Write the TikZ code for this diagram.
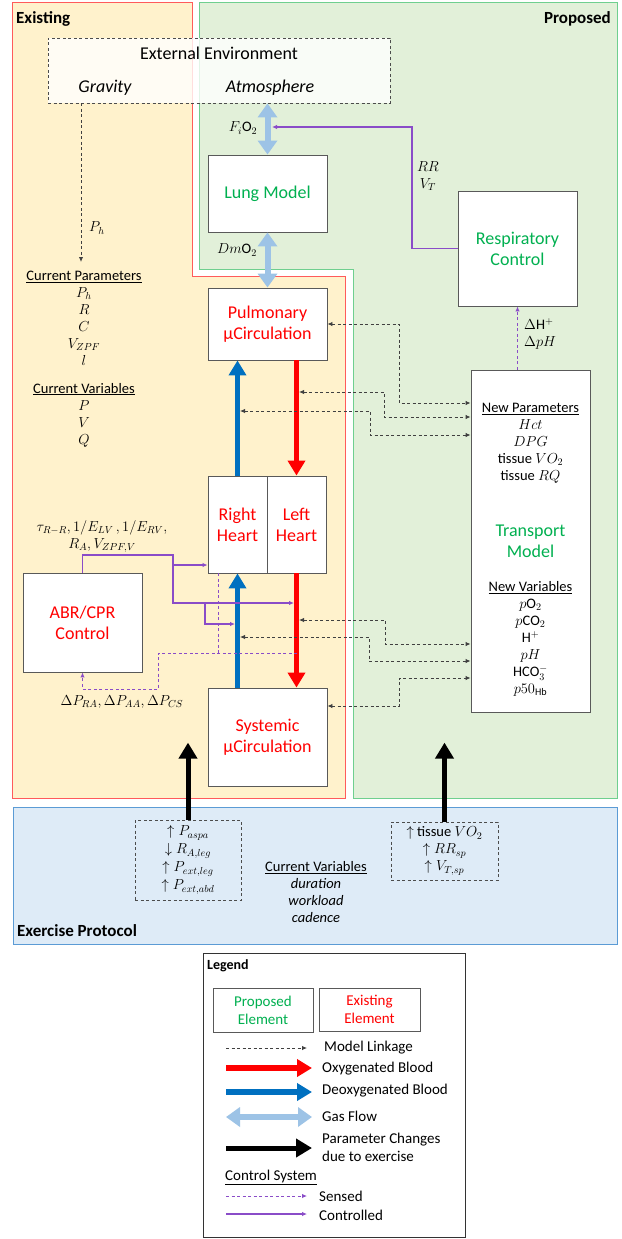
\RequirePackage{fix-cm}
\documentclass[tikz,border=0pt]{standalone}
\usepackage{fontspec}
\setmainfont{Carlito}
\usetikzlibrary{arrows.meta}

\definecolor{existfill}{HTML}{FFF2CC}
\definecolor{existline}{HTML}{FF5B5B}
\definecolor{propfill}{HTML}{E2F0D9}
\definecolor{propline}{HTML}{6FCF8F}
\definecolor{exerfill}{HTML}{DEEBF7}
\definecolor{exerline}{HTML}{5B9BD5}
\definecolor{propgreen}{HTML}{00B050}
\definecolor{existred}{HTML}{FF0000}
\definecolor{deoxblue}{HTML}{0070C0}
\definecolor{gasblue}{HTML}{9DC3E6}
\definecolor{ctrlpurple}{HTML}{8A4CC8}

\tikzset{
  block/.style={draw=black!65, line width=0.9pt, fill=white, align=center, inner sep=0pt, font=\fontsize{18}{21}\selectfont},
  smalltxt/.style={align=center, inner sep=0pt, font=\fontsize{14.5}{17}\selectfont},
  legtxt/.style={anchor=west, align=left, inner sep=0pt, font=\fontsize{15}{18}\selectfont},
  headtxt/.style={inner sep=0pt, font=\fontsize{17}{20}\selectfont\bfseries},
  dashbox/.style={draw=black!70, line width=0.8pt, dash pattern=on 3pt off 2.5pt},
  link/.style={draw=black!75, line width=0.9pt, dash pattern=on 3pt off 2.5pt, {Latex[length=5pt,width=4.5pt]}-{Latex[length=5pt,width=4.5pt]}},
  oxy/.style={draw=existred, line width=5pt, -{Triangle[width=17pt,length=15pt]}},
  deoxy/.style={draw=deoxblue, line width=5pt, -{Triangle[width=17pt,length=15pt]}},
  gas/.style={draw=gasblue, line width=6pt, {Triangle[width=19pt,length=14pt]}-{Triangle[width=19pt,length=14pt]}},
  exer/.style={draw=black, line width=5pt, -{Triangle[width=18pt,length=16pt]}},
  ctrl/.style={draw=ctrlpurple, line width=1.1pt, -{Latex[length=5pt,width=4.5pt]}},
  sensed/.style={draw=ctrlpurple, line width=1pt, dash pattern=on 3pt off 2.5pt, -{Latex[length=5pt,width=4.5pt]}},
}

\begin{document}
\begin{tikzpicture}[x=1pt,y=-1pt]
  %%%%% START %%%%%
  \useasboundingbox (0,0) rectangle (621,1239);

  % regions
  \filldraw[fill=existfill, draw=existline, line width=1pt] (12,3) -- (192,3) -- (192,276) -- (345,276) -- (345,798) -- (12,798) -- cycle;
  \filldraw[fill=propfill, draw=propline, line width=1pt] (199,3) -- (617,3) -- (617,798) -- (353,798) -- (353,269) -- (199,269) -- cycle;
  \filldraw[fill=exerfill, draw=exerline, line width=1pt] (13,807) rectangle (617,944);
  \node[headtxt, anchor=west] at (16,19) {Existing};
  \node[headtxt, anchor=east] at (611,19) {Proposed};
  \node[headtxt, anchor=west] at (17,931) {Exercise Protocol};

  % external environment
  \node[dashbox, fill=white, fill opacity=0.8, minimum width=342, minimum height=65] (env) at (219,70.5) {};
  \node[font=\fontsize{18}{21}\selectfont] (envtitle) at (219,53) {External Environment};
  \node[font=\fontsize{18}{21}\selectfont\itshape] (grav) at (105,88) {Gravity};
  \node[font=\fontsize{18}{21}\selectfont\itshape] (atm) at (270,88) {Atmosphere};

  % model blocks
  \node[block, text=propgreen, minimum width=119, minimum height=77] (lung) at (267.5,193.5) {Lung Model};
  \node[block, text=existred, minimum width=119, minimum height=72] (pulm) at (267.5,324) {Pulmonary\\µCirculation};
  \node[block, text=propgreen, minimum width=119, minimum height=115] (resp) at (517.5,248.5) {Respiratory\\Control};
  \node[block, text=propgreen, minimum width=119, minimum height=342] (trans) at (530.5,541) {Transport\\Model};
  \node[block, text=existred, minimum width=59, minimum height=97] (rheart) at (237.5,524.5) {Right\\Heart};
  \node[block, text=existred, minimum width=59, minimum height=97] (lheart) at (296.5,524.5) {Left\\Heart};
  \node[block, text=existred, minimum width=119, minimum height=99] (abr) at (82.5,622.5) {ABR/CPR\\Control};
  \node[block, text=existred, minimum width=119, minimum height=98] (syst) at (267.5,737) {Systemic\\µCirculation};

  % texts
  \node[smalltxt] (curpar) at (84,318) {\underline{Current Parameters}\\$P_h$\\$R$\\$C$\\$V_{ZPF}$\\$l$};
  \node[smalltxt] (curvar) at (84,415) {\underline{Current Variables}\\$P$\\$V$\\$Q$};
  \node[smalltxt] (newpar) at (530.5,443) {\underline{New Parameters}\\$Hct$\\$DPG$\\tissue $VO_2$\\tissue $RQ$};
  \node[smalltxt] (newvar) at (530.5,639) {\underline{New Variables}\\$p\mathrm{O}_2$\\$p\mathrm{CO}_2$\\$\mathrm{H}^+$\\$pH$\\$\mathrm{HCO}_3^-$\\$p50_{\mathrm{Hb}}$};
  \node[smalltxt, anchor=west] (phlbl) at (89,228) {$P_h$};
  \node[smalltxt] (fiolbl) at (243,128) {$F_i\mathrm{O}_2$};
  \node[smalltxt] (dmlbl) at (237,250) {$Dm\mathrm{O}_2$};
  \node[smalltxt] (rrlbl) at (428,176) {$RR$\\$V_T$};
  \node[smalltxt, anchor=west, align=left] (dhlbl) at (524,334) {$\Delta\mathrm{H}^+$\\$\Delta pH$};
  \node[smalltxt] (taulbl) at (102,536.5) {$\tau_{R-R}, 1/E_{LV}\,, 1/E_{RV},$\\$R_A, V_{ZPF,V}$};
  \node[smalltxt] (dplbl) at (122,702) {$\Delta P_{RA}, \Delta P_{AA}, \Delta P_{CS}$};

  % gas and blood flow
  \draw[gas] (env.south -| lung.north) -- (lung.north);
  \draw[gas] (lung.south) -- (pulm.north);
  \draw[deoxy] (rheart.north) -- (pulm.south -| rheart.north);
  \draw[oxy] (pulm.south -| lheart.north) -- (lheart.north);
  \draw[oxy] (lheart.south) -- (syst.north -| lheart.south);
  \draw[deoxy] (syst.north -| rheart.south) -- (rheart.south);

  % model linkage
  \coordinate (gtip) at (81,262);
  \draw[link, -{Latex[length=5pt,width=4.5pt]}] (env.south -| gtip) -- (gtip);
  \coordinate (rup) at (299,392);
  \coordinate (bup) at (240,411);
  \coordinate (rlow) at (299,620);
  \coordinate (blow) at (240,637);
  \draw[link] (pulm.east) -| (399,403) -- (trans.west |- 0,403);
  \draw[link] (rup) -| (384,417) -- (trans.west |- 0,417);
  \draw[link] (bup) -| (370,435) -- (trans.west |- 0,435);
  \draw[link] (rlow) -| (385,644) -- (trans.west |- 0,644);
  \draw[link] (blow) -| (369,661) -- (trans.west |- 0,661);
  \draw[link] (syst.east |- 0,706) -| (399,678) -- (trans.west |- 0,678);

  % control system
  \coordinate (fiotip) at (272,127);
  \coordinate (lout) at (294,603);
  \coordinate (bin) at (235,624);
  \coordinate (lsense) at (297,653);
  \draw[ctrl] (resp.west) -| (412,127) -- (fiotip);
  \draw[ctrl] (abr.north) |- (173,555) -- (173,565) -- (rheart.west |- 0,565);
  \draw[ctrl] (173,565) |- (lout);
  \draw[ctrl] (205,603) |- (bin);
  \draw[sensed] (trans.north -| resp.south) -- (resp.south);
  \draw[sensed, -] (rheart.south -| 218,0) -- (218,653);
  \draw[sensed] (lsense) -| (158,689) -| (abr.south);

  % exercise protocol
  \node[dashbox, smalltxt, minimum width=106, minimum height=80, font=\fontsize{14.5}{18}\selectfont] (ex1) at (188,860) {$\uparrow P_{aspa}$\\$\downarrow R_{A,leg}$\\$\uparrow P_{ext,leg}$\\$\uparrow P_{ext,abd}$};
  \node[dashbox, smalltxt, minimum width=107, minimum height=58] (ex2) at (444.5,851) {$\uparrow$ tissue $VO_2$\\$\uparrow RR_{sp}$\\$\uparrow V_{T,sp}$};
  \node[smalltxt] (excur) at (316,892) {\underline{Current Variables}\\\textit{duration}\\\textit{workload}\\\textit{cadence}};
  \draw[exer] (ex1.north) -- ++(0,-77);
  \draw[exer] (ex2.north) -- ++(0,-79);

  % legend
  \node[draw=black!80, line width=0.9pt, fill=white, minimum width=262, minimum height=284] (legend) at (334,1095) {};
  \node[headtxt, font=\fontsize{14}{17}\selectfont\bfseries, anchor=west] (legtitle) at (207,966) {Legend};
  \node[block, text=propgreen, minimum width=100, minimum height=44, font=\fontsize{15}{18}\selectfont] (legprop) at (263,1010) {Proposed\\Element};
  \node[block, text=existred, minimum width=101, minimum height=43, font=\fontsize{15}{18}\selectfont] (legexist) at (369.5,1009.5) {Existing\\Element};
  \node[legtxt] (lgl) at (324,1048) {Model Linkage};
  \node[legtxt] (lgo) at (322,1069) {Oxygenated Blood};
  \node[legtxt] (lgd) at (322,1091) {Deoxygenated Blood};
  \node[legtxt] (lgg) at (322,1116) {Gas Flow};
  \node[legtxt] (lgp) at (322,1147) {Parameter Changes\\due to exercise};
  \node[legtxt, anchor=west] (lgc) at (225,1177) {\underline{Control System}};
  \node[legtxt] (lgs) at (319,1196) {Sensed};
  \node[legtxt] (lgk) at (319,1215) {Controlled};
  \draw[link, -{Latex[length=5pt,width=4.5pt]}] (226,1048) -- (307,1048);
  \draw[oxy, line width=6pt] (226,1068) -- (312,1068);
  \draw[deoxy, line width=6pt] (226,1092) -- (312,1092);
  \draw[gas] (226,1117) -- (312,1117);
  \draw[exer] (226,1148) -- (312,1148);
  \draw[sensed] (226,1196) -- (307,1196);
  \draw[ctrl] (226,1214) -- (307,1214);
  %%%%% END %%%%%
\end{tikzpicture}
\end{document}
